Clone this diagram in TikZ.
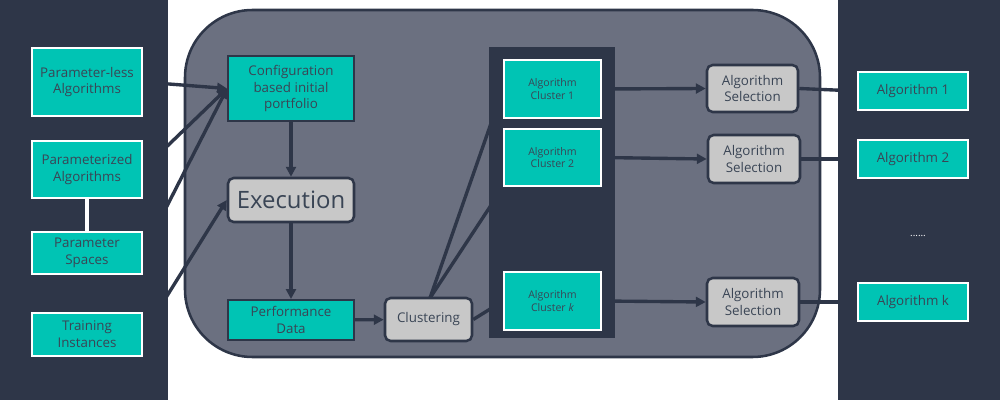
\documentclass[tikz,border=0pt]{standalone}
\usepackage{fontspec}
\setmainfont{Open Sans}
\usetikzlibrary{arrows.meta}
\definecolor{dk}{HTML}{2E3648}
\definecolor{mid}{HTML}{6B7080}
\definecolor{teal}{HTML}{00C4B4}
\definecolor{gr}{HTML}{C8C8C8}
\definecolor{tx}{HTML}{3A4555}
\pgfdeclarelayer{bg}\pgfdeclarelayer{ln}\pgfdeclarelayer{pn}
\pgfsetlayers{bg,ln,pn,main}
\begin{document}
\begin{tikzpicture}[x=0.025cm,y=-0.025cm,
  box/.style={draw=#1,line width=1.4pt,fill=teal,text=tx,align=center,inner sep=0pt,font=\fontsize{9.5}{12}\selectfont},
  gbox/.style={draw=dk,line width=1.8pt,fill=gr,text=tx,align=center,inner sep=0pt,rounded corners=4pt,font=\fontsize{9.5}{12}\selectfont},
  ln/.style={draw=dk,line width=2.4pt},
  ar/.style={ln,-{Triangle[length=7pt,width=7pt]}}]
\useasboundingbox (0,0) rectangle (1000,400);
\def\bx#1#2#3#4#5#6#7{\node[#1,minimum width={(#5-#3)*0.025cm},minimum height={(#6-#4)*0.025cm}] (#2) at ({(#3+#5)/2},{(#4+#6)/2}) {#7};}
% nodes
\bx{box=white}{pl}{32}{48}{142}{116}{Parameter-less\\Algorithms}
\bx{box=white}{pa}{32}{141}{142}{198}{Parameterized\\Algorithms}
\bx{box=white}{ps}{32}{232}{142}{274}{Parameter\\Spaces}
\bx{box=white}{ti}{32}{313}{142}{356}{Training\\Instances}
\bx{box=dk}{cf}{228}{56}{354}{121}{Configuration\\based initial\\portfolio}
\bx{gbox,font=\fontsize{17}{20}\selectfont}{ex}{228}{178}{354}{222}{Execution}
\bx{box=dk}{pd}{228}{300}{354}{340}{Performance\\Data}
\bx{gbox}{cl}{385}{298}{472}{341}{Clustering}
\bx{box=white,font=\fontsize{7.5}{9}\selectfont}{c1}{504}{60}{601}{118}{Algorithm\\Cluster 1}
\bx{box=white,font=\fontsize{7.5}{9}\selectfont}{c2}{504}{129}{601}{186}{Algorithm\\Cluster 2}
\bx{box=white,font=\fontsize{7.5}{9}\selectfont}{ck}{504}{272}{601}{330}{Algorithm\\Cluster \textit{k}}
\bx{gbox}{s1}{707}{65}{798}{112}{Algorithm\\Selection}
\bx{gbox}{s2}{708}{135}{800}{183}{Algorithm\\Selection}
\bx{gbox}{sk}{707}{278}{799}{326}{Algorithm\\Selection}
\bx{box=white}{a1}{858}{72}{968}{110}{Algorithm 1}
\bx{box=white}{a2}{858}{140}{968}{178}{Algorithm 2}
\bx{box=white}{ak}{858}{283}{968}{321}{Algorithm k}
\node[text=white,font=\fontsize{7}{8}\selectfont] (dots) at (918,236) {......};
\coordinate (ctop) at (430,298);
\draw[white,line width=2.4pt] (pa.south) -- (ps.north);
\begin{pgfonlayer}{bg}
\fill[white] (0,0) rectangle (1000,400);
\draw[dk,line width=1.8pt,fill=mid,rounded corners=48pt] (185,10) rectangle (820,357);
\end{pgfonlayer}
\begin{pgfonlayer}{pn}
\fill[dk] (0,0) rectangle (168,400);
\fill[dk] (838,0) rectangle (1000,400);
\fill[dk] (489,47) rectangle (615,338);
\end{pgfonlayer}
\begin{pgfonlayer}{ln}
\draw[ar] (pl.east) -- (cf.west);
\draw[ar] (pa.east) -- (cf.west);
\draw[ar] (ps.east) -- (cf.west);
\draw[ar] (ti.east) -- (ex.west);
\draw[ar] (cf) -- (ex);
\draw[ar] (ex) -- (pd);
\draw[ar] (pd) -- (cl);
\draw[ln] (ctop) -- (c1.west);
\draw[ln] (ctop) -- (c2.south west);
\draw[ln] (cl.east) -- (ck.west);
\draw[ar] (c1.east) -- (s1.west);
\draw[ar] (c2.east) -- (s2.west);
\draw[ar] (ck.east) -- (sk.west);
\draw[ln] (s1.east) -- (a1.west);
\draw[ln] (s2.east) -- (a2.west);
\draw[ln] (sk.east) -- (ak.west);
\end{pgfonlayer}
\end{tikzpicture}
\end{document}
